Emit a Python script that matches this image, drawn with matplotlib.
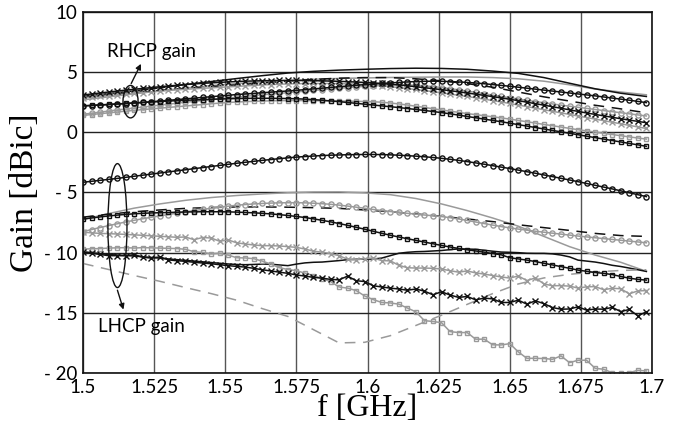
import numpy as np
import matplotlib
matplotlib.use("Agg")
import matplotlib.pyplot as plt
from matplotlib.patches import Ellipse

# measured frequency points (GHz), 3 MHz step; plain lines use every third one
freq = np.round(np.arange(1.500, 1.6985, 0.003), 3)
freq_line = freq[::3]

# ---- RHCP gain (dBic) ----
rhcp_x_black = [
    3.10, 3.19, 3.27, 3.35, 3.43, 3.51, 3.58, 3.65, 3.72, 3.79,
    3.85, 3.91, 3.97, 4.02, 4.07, 4.11, 4.15, 4.19, 4.22, 4.25,
    4.27, 4.29, 4.30, 4.31, 4.31, 4.31, 4.30, 4.29, 4.28, 4.26,
    4.24, 4.21, 4.18, 4.15, 4.11, 4.06, 4.00, 3.94, 3.87, 3.79,
    3.71, 3.63, 3.55, 3.46, 3.37, 3.27, 3.17, 3.07, 2.97, 2.86,
    2.75, 2.63, 2.51, 2.38, 2.26, 2.13, 2.00, 1.87, 1.74, 1.61,
    1.49, 1.37, 1.25, 1.13, 1.02, 0.91, 0.80]
rhcp_x_gray = [
    2.85, 2.92, 2.99, 3.06, 3.12, 3.18, 3.24, 3.30, 3.36, 3.42,
    3.48, 3.53, 3.58, 3.62, 3.66, 3.70, 3.74, 3.78, 3.82, 3.86,
    3.90, 3.94, 3.97, 4.00, 4.02, 4.04, 4.05, 4.06, 4.06, 4.06,
    4.05, 4.03, 4.01, 3.97, 3.92, 3.86, 3.79, 3.72, 3.64, 3.56,
    3.47, 3.38, 3.28, 3.18, 3.08, 2.98, 2.87, 2.76, 2.64, 2.52,
    2.40, 2.27, 2.14, 2.01, 1.88, 1.75, 1.62, 1.49, 1.36, 1.23,
    1.10, 0.97, 0.84, 0.71, 0.58, 0.45, 0.32]
rhcp_o_black = [
    2.20, 2.23, 2.27, 2.31, 2.35, 2.39, 2.44, 2.49, 2.54, 2.60,
    2.66, 2.72, 2.78, 2.84, 2.90, 2.96, 3.02, 3.08, 3.14, 3.19,
    3.24, 3.29, 3.34, 3.39, 3.44, 3.49, 3.55, 3.61, 3.67, 3.73,
    3.79, 3.85, 3.91, 3.96, 4.01, 4.06, 4.11, 4.15, 4.19, 4.22,
    4.24, 4.25, 4.24, 4.22, 4.19, 4.15, 4.10, 4.04, 3.97, 3.90,
    3.83, 3.75, 3.67, 3.59, 3.51, 3.43, 3.35, 3.27, 3.19, 3.11,
    3.03, 2.94, 2.85, 2.76, 2.67, 2.57, 2.47]
rhcp_o_gray = [
    1.50, 1.59, 1.68, 1.77, 1.86, 1.94, 2.02, 2.10, 2.18, 2.26,
    2.34, 2.42, 2.50, 2.57, 2.64, 2.71, 2.78, 2.85, 2.92, 2.99,
    3.06, 3.12, 3.18, 3.24, 3.30, 3.36, 3.42, 3.48, 3.54, 3.60,
    3.66, 3.72, 3.77, 3.82, 3.87, 3.91, 3.94, 3.95, 3.94, 3.91,
    3.86, 3.80, 3.72, 3.63, 3.53, 3.43, 3.32, 3.21, 3.09, 2.98,
    2.88, 2.77, 2.66, 2.56, 2.46, 2.36, 2.26, 2.17, 2.08, 1.99,
    1.90, 1.81, 1.72, 1.63, 1.54, 1.45, 1.36]
rhcp_s_black = [
    2.20, 2.24, 2.28, 2.32, 2.36, 2.40, 2.44, 2.48, 2.52, 2.56,
    2.60, 2.63, 2.66, 2.69, 2.72, 2.75, 2.77, 2.79, 2.81, 2.82,
    2.83, 2.83, 2.83, 2.82, 2.81, 2.79, 2.76, 2.72, 2.67, 2.61,
    2.55, 2.48, 2.41, 2.34, 2.27, 2.20, 2.13, 2.06, 1.98, 1.90,
    1.82, 1.73, 1.64, 1.54, 1.43, 1.32, 1.21, 1.10, 0.99, 0.88,
    0.76, 0.64, 0.52, 0.40, 0.28, 0.16, 0.04, -0.08, -0.20, -0.32,
    -0.44, -0.56, -0.68, -0.80, -0.92, -1.04, -1.16]
rhcp_s_gray = [
    1.40, 1.48, 1.55, 1.62, 1.69, 1.76, 1.83, 1.89, 1.95, 2.01,
    2.07, 2.13, 2.19, 2.25, 2.31, 2.37, 2.43, 2.48, 2.52, 2.55,
    2.58, 2.60, 2.62, 2.63, 2.64, 2.64, 2.64, 2.63, 2.62, 2.61,
    2.60, 2.59, 2.58, 2.56, 2.54, 2.50, 2.44, 2.36, 2.27, 2.17,
    2.07, 1.96, 1.86, 1.76, 1.66, 1.56, 1.47, 1.38, 1.29, 1.20,
    1.10, 0.99, 0.88, 0.77, 0.66, 0.55, 0.44, 0.33, 0.22, 0.12,
    0.02, -0.08, -0.18, -0.28, -0.38, -0.47, -0.56]
rhcp_solid_black = [
    3.00, 3.22, 3.45, 3.70, 3.97, 4.22, 4.47, 4.71, 4.93, 5.07, 5.17, 5.24,
    5.30, 5.33, 5.31, 5.24, 5.09, 4.90, 4.55, 4.08, 3.62, 3.25, 2.98]
rhcp_solid_gray = [
    2.70, 2.95, 3.20, 3.45, 3.68, 3.88, 4.05, 4.20, 4.32, 4.41, 4.48, 4.52,
    4.56, 4.58, 4.60, 4.60, 4.55, 4.45, 4.25, 3.95, 3.60, 3.35, 3.12]
rhcp_dash_black = [
    2.90, 3.10, 3.30, 3.48, 3.65, 3.80, 3.95, 4.10, 4.25, 4.40, 4.50, 4.55,
    4.55, 4.45, 4.28, 4.05, 3.75, 3.35, 2.95, 2.60, 2.25, 1.95, 1.62]

# ---- LHCP gain (dBic) ----
lhcp_o_black = [
    -4.15, -4.07, -3.99, -3.91, -3.83, -3.74, -3.65, -3.56, -3.47, -3.38,
    -3.29, -3.20, -3.11, -3.02, -2.93, -2.84, -2.75, -2.66, -2.57, -2.49,
    -2.41, -2.33, -2.26, -2.19, -2.12, -2.06, -2.01, -1.97, -1.93, -1.90,
    -1.88, -1.86, -1.85, -1.84, -1.84, -1.85, -1.87, -1.90, -1.94, -1.98,
    -2.03, -2.09, -2.16, -2.24, -2.33, -2.43, -2.54, -2.65, -2.77, -2.89,
    -3.01, -3.14, -3.27, -3.40, -3.54, -3.68, -3.82, -3.96, -4.10, -4.25,
    -4.40, -4.55, -4.70, -4.86, -5.02, -5.18, -5.34]
lhcp_s_black = [
    -7.20, -7.12, -7.03, -6.95, -6.88, -6.82, -6.77, -6.73, -6.70, -6.68,
    -6.66, -6.64, -6.62, -6.61, -6.60, -6.60, -6.60, -6.61, -6.63, -6.66,
    -6.69, -6.73, -6.78, -6.84, -6.91, -6.99, -7.08, -7.19, -7.31, -7.44,
    -7.58, -7.73, -7.89, -8.05, -8.22, -8.39, -8.55, -8.70, -8.84, -8.98,
    -9.12, -9.26, -9.40, -9.53, -9.65, -9.76, -9.86, -9.96, -10.07, -10.18,
    -10.42, -10.52, -10.62, -10.74, -10.88, -11.02, -11.16, -11.30, -11.45, -11.55,
    -11.65, -11.72, -11.82, -11.98, -12.12, -12.22, -12.28]
lhcp_o_gray = [
    -8.25, -8.08, -7.91, -7.75, -7.60, -7.45, -7.31, -7.18, -7.06, -6.94,
    -6.83, -6.72, -6.61, -6.51, -6.41, -6.31, -6.22, -6.14, -6.06, -6.00,
    -5.95, -5.91, -5.88, -5.86, -5.85, -5.85, -5.86, -5.89, -5.93, -5.98,
    -6.05, -6.13, -6.22, -6.31, -6.41, -6.50, -6.58, -6.66, -6.73, -6.80,
    -6.87, -6.93, -7.00, -7.09, -7.20, -7.32, -7.45, -7.58, -7.71, -7.83,
    -7.94, -8.04, -8.13, -8.22, -8.30, -8.38, -8.46, -8.54, -8.62, -8.69,
    -8.76, -8.83, -8.90, -8.97, -9.04, -9.11, -9.18]
lhcp_x_gray = [
    -8.30, -8.35, -8.40, -8.42, -8.45, -8.48, -8.52, -8.56, -8.60, -8.64,
    -8.68, -8.72, -8.70, -8.92, -8.74, -8.78, -9.05, -8.94, -9.18, -9.28,
    -9.36, -9.42, -9.42, -9.44, -9.50, -9.56, -9.70, -9.88, -9.96, -10.08,
    -10.25, -10.55, -10.60, -10.50, -10.44, -10.66, -10.68, -11.05, -11.25, -11.28,
    -11.28, -11.30, -11.36, -11.50, -11.62, -11.52, -11.68, -11.78, -11.90, -12.02,
    -12.11, -11.94, -12.32, -12.10, -12.60, -12.75, -12.74, -12.78, -12.94, -12.84,
    -12.82, -13.08, -12.96, -13.00, -13.42, -13.18, -13.15]
lhcp_s_gray = [
    -9.70, -9.68, -9.66, -9.62, -9.60, -9.58, -9.62, -9.58, -9.60, -9.62,
    -9.64, -9.66, -9.72, -9.92, -9.98, -10.10, -10.05, -10.20, -10.42, -10.44,
    -10.50, -10.70, -10.95, -11.25, -11.40, -11.50, -11.70, -11.90, -12.15, -12.40,
    -12.85, -12.95, -13.15, -13.60, -13.90, -14.14, -14.18, -14.28, -14.60, -14.92,
    -15.65, -15.72, -15.82, -16.56, -16.64, -16.64, -17.19, -17.19, -17.66, -17.67,
    -17.56, -18.25, -18.78, -18.78, -18.80, -18.86, -18.58, -19.14, -18.94, -18.94,
    -19.61, -19.69, -19.98, -19.98, -19.97, -19.78, -19.83]
lhcp_x_black = [
    -9.95, -10.05, -10.15, -10.25, -10.25, -10.25, -10.17, -10.38, -10.45, -10.35,
    -10.60, -10.67, -10.72, -10.80, -10.86, -10.92, -11.00, -11.08, -11.14, -11.20,
    -11.30, -11.42, -11.52, -11.62, -11.72, -11.85, -11.95, -12.05, -12.12, -12.22,
    -12.26, -11.95, -12.33, -12.40, -12.75, -12.85, -12.95, -13.02, -13.12, -13.02,
    -13.20, -13.50, -13.25, -13.52, -13.72, -13.64, -13.92, -13.78, -13.84, -14.14,
    -14.14, -13.95, -14.28, -14.00, -14.24, -14.56, -14.70, -14.68, -14.50, -14.78,
    -14.68, -14.70, -14.55, -14.90, -14.72, -15.25, -14.92]
lhcp_solid_black = [
    -9.92, -10.00, -10.08, -10.15, -10.20, -10.24, -10.28, -10.34, -10.40, -10.46,
    -10.52, -10.58, -10.64, -10.70, -10.76, -10.82, -10.88, -10.94, -10.98, -11.00,
    -10.98, -10.95, -10.96, -11.02, -11.08, -10.95, -10.85, -10.80, -10.78, -10.72,
    -10.66, -10.58, -10.55, -10.54, -10.53, -10.45, -10.25, -10.05, -9.97, -9.92,
    -9.90, -9.86, -9.82, -9.75, -9.69, -9.70, -9.72, -9.80, -9.88, -9.95,
    -9.97, -10.00, -10.05, -10.06, -10.06, -10.10, -10.20, -10.35, -10.62, -10.70,
    -10.78, -10.90, -11.05, -11.15, -11.28, -11.42, -11.56]
lhcp_solid_gray = [
    -7.25, -6.75, -6.30, -5.95, -5.65, -5.42, -5.25, -5.12, -5.02, -4.96, -4.95, -5.03,
    -5.18, -5.50, -5.95, -6.50, -7.12, -7.80, -8.65, -9.50, -10.20, -10.80, -11.55]
lhcp_dash_black = [
    -7.05, -6.80, -6.60, -6.45, -6.32, -6.25, -6.20, -6.20, -6.22, -6.26, -6.32, -6.45,
    -6.60, -6.78, -6.98, -7.20, -7.42, -7.68, -7.92, -8.15, -8.40, -8.58, -8.65]
lhcp_dash_gray = [
    -10.90, -11.40, -11.90, -12.38, -12.90, -13.40, -13.95, -14.65, -15.30, -16.40, -17.50, -17.45,
    -16.90, -16.05, -15.20, -14.30, -13.40, -12.60, -12.10, -11.80, -11.60, -11.48, -11.42]

x_ticks = [1.5, 1.525, 1.55, 1.575, 1.6, 1.625, 1.65, 1.675, 1.7]
x_labels = ["1.5", "1.525", "1.55", "1.575", "1.6", "1.625", "1.65", "1.675", "1.7"]
y_ticks = [-20, -15, -10, -5, 0, 5, 10]
y_labels = ["- 20", "- 15", "- 10", "- 5", "0", "5", "10"]

BLACK = "#111111"
GRAY = "#9a9a9a"

fig = plt.figure(figsize=(6.93, 4.32), dpi=100)
ax = fig.add_axes([0.1198, 0.1366, 0.8211, 0.8356])

# plain lines first, marker curves on top
for vals, col in [(rhcp_solid_gray, GRAY), (rhcp_solid_black, BLACK),
                  (lhcp_solid_gray, GRAY)]:
    ax.plot(freq_line, vals, color=col, lw=1.1)
ax.plot(freq, lhcp_solid_black, color=BLACK, lw=1.1)
for vals, col in [(rhcp_dash_black, BLACK), (lhcp_dash_black, BLACK),
                  (lhcp_dash_gray, GRAY)]:
    ax.plot(freq_line, vals, color=col, lw=1.1, dashes=(7, 5))

marker_curves = [
    (rhcp_s_gray, GRAY, "s"), (rhcp_o_gray, GRAY, "o"), (rhcp_x_gray, GRAY, "x"),
    (lhcp_s_gray, GRAY, "s"), (lhcp_o_gray, GRAY, "o"), (lhcp_x_gray, GRAY, "x"),
    (rhcp_s_black, BLACK, "s"), (rhcp_o_black, BLACK, "o"), (rhcp_x_black, BLACK, "x"),
    (lhcp_s_black, BLACK, "s"), (lhcp_o_black, BLACK, "o"), (lhcp_x_black, BLACK, "x"),
]
for vals, col, mk in marker_curves:
    ms = {"s": 3.3, "o": 3.7, "x": 4.2}[mk]
    ax.plot(freq, vals, color=col, lw=1.1, marker=mk, ms=ms, mew=1.0,
            mfc="none", mec=col)

ax.set_xlim(1.5, 1.7)
ax.set_ylim(-20, 10)
ax.set_xticks(x_ticks)
ax.set_xticklabels(x_labels)
ax.set_yticks(y_ticks)
ax.set_yticklabels(y_labels)
ax.tick_params(length=0, pad=4, labelsize=13.5)
for lab in ax.get_xticklabels() + ax.get_yticklabels():
    lab.set_fontfamily("Lato")

ax.set_axisbelow(True)
ax.grid(axis="x", color="#555555", lw=1.0)
ax.grid(axis="y", color="#222222", lw=1.0)
for sp in ax.spines.values():
    sp.set_linewidth(1.2)
    sp.set_color("#111111")

ax.set_xlabel("f [GHz]", family="Liberation Serif", fontsize=23, labelpad=-1)
ax.set_ylabel("Gain [dBic]", family="Liberation Serif", fontsize=24, labelpad=3)

# annotation ellipses and arrows
ax.add_patch(Ellipse((1.5167, 2.55), 0.0053, 2.7, fill=False, ec=BLACK, lw=1.0, zorder=5))
ax.add_patch(Ellipse((1.5121, -7.75), 0.0067, 10.3, fill=False, ec=BLACK, lw=1.0, zorder=5))
ax.annotate("", xy=(1.5208, 5.9), xytext=(1.5165, 3.85),
            arrowprops=dict(arrowstyle="-|>", color=BLACK, lw=1.0, mutation_scale=8))
ax.annotate("", xy=(1.5145, -14.95), xytext=(1.5118, -12.9),
            arrowprops=dict(arrowstyle="-|>", color=BLACK, lw=1.0, mutation_scale=8))
ax.text(1.5084, 6.7, "RHCP gain", family="Lato", fontsize=13.5, va="center", ha="left")
ax.text(1.5054, -16.1, "LHCP gain", family="Lato", fontsize=13.5, va="center", ha="left")

fig.savefig("out.png", dpi=100)
